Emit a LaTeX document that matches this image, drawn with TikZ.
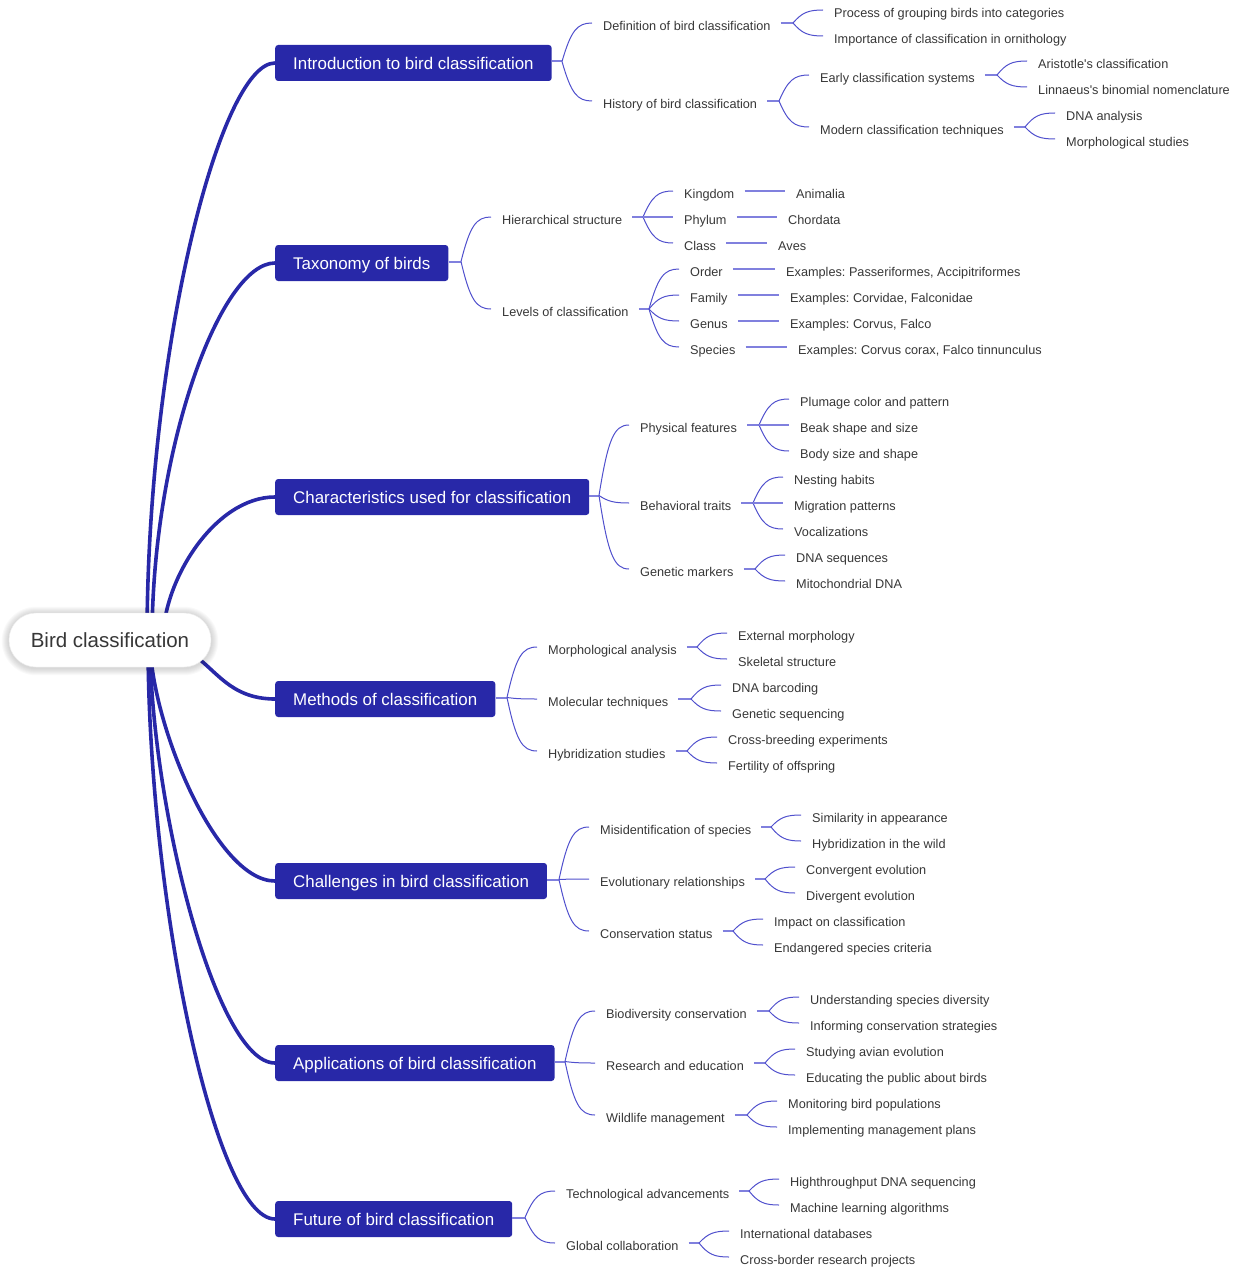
\documentclass[tikz,border=0pt]{standalone}
\usepackage{fontspec}
\setmainfont{Liberation Sans}
\usetikzlibrary{calc,backgrounds}
\definecolor{mainblue}{RGB}{40,40,168}
\definecolor{twigc}{RGB}{80,80,205}
\definecolor{stemc}{RGB}{128,128,222}
\definecolor{txt}{RGB}{55,55,55}
\frenchspacing
\newcommand\subsz{\fontsize{12.7pt}{15pt}\selectfont}
\newcommand\mainsz{\fontsize{16.9pt}{20pt}\selectfont}
\newcommand\rootsz{\fontsize{20.5pt}{24pt}\selectfont}
\tikzset{
  lbl/.style={anchor=base west, inner sep=0pt, font=\subsz, text=txt},
  mainbox/.style={anchor=west, fill=mainblue, text=white, rounded corners=3pt,
    inner xsep=18pt, inner ysep=0pt, minimum height=36pt, text height=13pt, text depth=0.8pt, font=\mainsz},
  rootnode/.style={fill=white, draw=black!7, rounded corners=27pt, minimum width=202pt,
    minimum height=54pt, font=\rootsz, text=txt},
  stem/.style={draw=stemc, line width=2pt},
  twig/.style={draw=twigc, line width=1pt},
  trunk/.style={draw=mainblue, line width=3.6pt, line cap=round}
}
\newcommand\nd[4]{\node[lbl] (#1) at (#2,#3+5.3) {#4};
  \coordinate (#1-in) at (#2-11,#3-2);
  \coordinate (#1-out) at ($(#1.base east)+(10,-7.3)$);}
\newcommand\twigto[2]{\draw[twig] let \p1=(#1), \p2=(#2) in (\p1) .. controls ({\x1+0.3*(\x2-\x1)},{\y1+0.8*(\y2-\y1)}) and ({\x1+0.5*(\x2-\x1)},\y2) .. (\p2);}
\newcommand\grp[3]{%
  \coordinate (#1-f) at ($(#1-out -| #2-in)+(-30,0)$);
  \draw[stem] (#1-out) -- (#1-f);
  \foreach \ch in {#3} {\twigto{#1-f}{\ch-in}}}
\newcommand\single[2]{\draw[stem] (#1-out) -- (#2-in);}
\newcommand\mainnd[4]{\node[mainbox] (#1) at (#2,#3) {#4};
  \coordinate (#1-out) at ($(#1.east)+(0,-1.5)$);}

\begin{document}
\begin{tikzpicture}[x=1pt,y=-1pt]
\useasboundingbox (0,0) rectangle (1240,1268);

% root
\node[rootnode] (root) at (110,640) {Bird classification};

% main nodes
\mainnd{m1}{275}{63}{Introduction to bird classification}
\mainnd{m2}{275}{263}{Taxonomy of birds}
\mainnd{m3}{275}{497}{Characteristics used for classification}
\mainnd{m4}{275}{699}{Methods of classification}
\mainnd{m5}{275}{881}{Challenges in bird classification}
\mainnd{m6}{275}{1063}{Applications of bird classification}
\mainnd{m7}{275}{1219}{Future of bird classification}

\begin{pgfonlayer}{background}
\draw[trunk] (147,640) .. controls (147,350) and (220,63) .. (m1.west);
\draw[trunk] (152,640) .. controls (152,450) and (220,263) .. (m2.west);
\draw[trunk] (163,640) .. controls (163,580) and (215,497) .. (m3.west);
\draw[trunk] (147,640) .. controls (211,640) and (211,699) .. (m4.west);
\draw[trunk] (150,640) .. controls (150,720) and (215,881) .. (m5.west);
\draw[trunk] (150,640) .. controls (150,800) and (215,1063) .. (m6.west);
\draw[trunk] (148,640) .. controls (148,900) and (215,1219) .. (m7.west);
\foreach \s in {1,...,7}
  \fill[black, opacity=0.022, rounded corners=27pt+\s pt]
    ($(root.south west)+(-\s,\s+1)$) rectangle ($(root.north east)+(\s,-\s+1)$);
\end{pgfonlayer}

% ---- Introduction
\nd{a1}{603}{25}{Definition of bird classification}
\nd{a11}{834}{12}{Process of grouping birds into categories}
\nd{a12}{834}{38}{Importance of classification in ornithology}
\nd{a2}{603}{103}{History of bird classification}
\nd{a21}{820}{77}{Early classification systems}
\nd{a211}{1038}{63}{Aristotle\textquotesingle s classification}
\nd{a212}{1038}{89}{Linnaeus\textquotesingle s binomial nomenclature}
\nd{a22}{820}{129}{Modern classification techniques}
\nd{a221}{1066}{115}{DNA analysis}
\nd{a222}{1066}{141}{Morphological studies}
\grp{m1}{a1}{a1,a2}
\grp{a1}{a11}{a11,a12}
\grp{a2}{a21}{a21,a22}
\grp{a21}{a211}{a211,a212}
\grp{a22}{a221}{a221,a222}

% ---- Taxonomy
\nd{b1}{502}{219}{Hierarchical structure}
\nd{b11}{684}{193}{Kingdom}
\nd{b111}{796}{193}{Animalia}
\nd{b12}{684}{219}{Phylum}
\nd{b121}{788}{219}{Chordata}
\nd{b13}{684}{245}{Class}
\nd{b131}{778}{245}{Aves}
\nd{b2}{502}{311}{Levels of classification}
\nd{b21}{690}{271}{Order}
\nd{b211}{786}{271}{Examples: Passeriformes, Accipitriformes}
\nd{b22}{690}{297}{Family}
\nd{b221}{790}{297}{Examples: Corvidae, Falconidae}
\nd{b23}{690}{323}{Genus}
\nd{b231}{790}{323}{Examples: Corvus, Falco}
\nd{b24}{690}{349}{Species}
\nd{b241}{798}{349}{Examples: Corvus corax, Falco tinnunculus}
\grp{m2}{b1}{b1,b2}
\grp{b1}{b11}{b11,b12,b13}
\draw[stem] (b1-f) -- (b12-in);
\grp{b2}{b21}{b21,b22,b23,b24}
\single{b11}{b111}
\single{b12}{b121}
\single{b13}{b131}
\single{b21}{b211}
\single{b22}{b221}
\single{b23}{b231}
\single{b24}{b241}

% ---- Characteristics
\nd{c1}{640}{427}{Physical features}
\nd{c11}{800}{401}{Plumage color and pattern}
\nd{c12}{800}{427}{Beak shape and size}
\nd{c13}{800}{453}{Body size and shape}
\nd{c2}{640}{505}{Behavioral traits}
\nd{c21}{794}{479}{Nesting habits}
\nd{c22}{794}{505}{Migration patterns}
\nd{c23}{794}{531}{Vocalizations}
\nd{c3}{640}{571}{Genetic markers}
\nd{c31}{796}{557}{DNA sequences}
\nd{c32}{796}{583}{Mitochondrial DNA}
\grp{m3}{c1}{c1,c2,c3}
\grp{c1}{c11}{c11,c12,c13}
\draw[stem] (c1-f) -- (c12-in);
\grp{c2}{c21}{c21,c22,c23}
\draw[stem] (c2-f) -- (c22-in);
\grp{c3}{c31}{c31,c32}

% ---- Methods
\nd{d1}{548}{649}{Morphological analysis}
\nd{d11}{738}{635}{External morphology}
\nd{d12}{738}{661}{Skeletal structure}
\nd{d2}{548}{701}{Molecular techniques}
\nd{d21}{732}{687}{DNA barcoding}
\nd{d22}{732}{713}{Genetic sequencing}
\nd{d3}{548}{753}{Hybridization studies}
\nd{d31}{728}{739}{Cross-breeding experiments}
\nd{d32}{728}{765}{Fertility of offspring}
\grp{m4}{d1}{d1,d2,d3}
\grp{d1}{d11}{d11,d12}
\grp{d2}{d21}{d21,d22}
\grp{d3}{d31}{d31,d32}

% ---- Challenges
\nd{e1}{600}{829}{Misidentification of species}
\nd{e11}{812}{817}{Similarity in appearance}
\nd{e12}{812}{843}{Hybridization in the wild}
\nd{e2}{600}{881}{Evolutionary relationships}
\nd{e21}{806}{869}{Convergent evolution}
\nd{e22}{806}{895}{Divergent evolution}
\nd{e3}{600}{933}{Conservation status}
\nd{e31}{774}{921}{Impact on classification}
\nd{e32}{774}{947}{Endangered species criteria}
\grp{m5}{e1}{e1,e2,e3}
\grp{e1}{e11}{e11,e12}
\grp{e2}{e21}{e21,e22}
\grp{e3}{e31}{e31,e32}

% ---- Applications
\nd{f1}{606}{1013}{Biodiversity conservation}
\nd{f11}{810}{999}{Understanding species diversity}
\nd{f12}{810}{1025}{Informing conservation strategies}
\nd{f2}{606}{1065}{Research and education}
\nd{f21}{806}{1051}{Studying avian evolution}
\nd{f22}{806}{1077}{Educating the public about birds}
\nd{f3}{606}{1117}{Wildlife management}
\nd{f31}{788}{1103}{Monitoring bird populations}
\nd{f32}{788}{1129}{Implementing management plans}
\grp{m6}{f1}{f1,f2,f3}
\grp{f1}{f11}{f11,f12}
\grp{f2}{f21}{f21,f22}
\grp{f3}{f31}{f31,f32}

% ---- Future
\nd{g1}{566}{1193}{Technological advancements}
\nd{g11}{790}{1181}{Highthroughput DNA sequencing}
\nd{g12}{790}{1207}{Machine learning algorithms}
\nd{g2}{566}{1245}{Global collaboration}
\nd{g21}{740}{1233}{International databases}
\nd{g22}{740}{1259}{Cross-border research projects}
\grp{m7}{g1}{g1,g2}
\grp{g1}{g11}{g11,g12}
\grp{g2}{g21}{g21,g22}
\end{tikzpicture}
\end{document}
